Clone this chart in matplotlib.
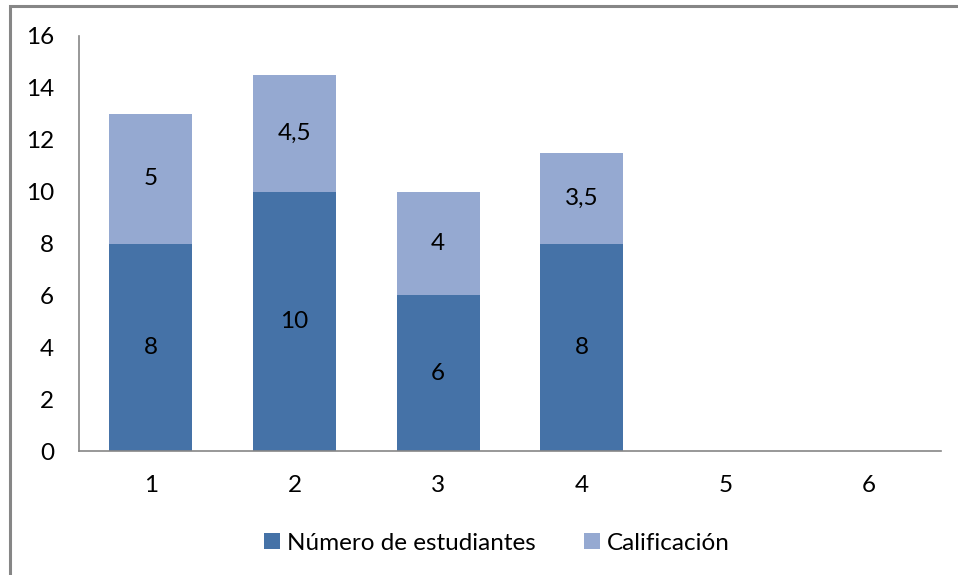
import matplotlib
matplotlib.use("Agg")
import matplotlib.pyplot as plt
from matplotlib.patches import Rectangle

categories = ["1", "2", "3", "4", "5", "6"]
estudiantes = [8, 10, 6, 8, None, None]
calificacion = [5, 4.5, 4, 3.5, None, None]
label_est = ["8", "10", "6", "8"]
label_cal = ["5", "4,5", "4", "3,5"]
yticks = [0, 2, 4, 6, 8, 10, 12, 14, 16]

plt.rcParams['font.family'] = ['Lato', 'DejaVu Sans']
FS = 17.5

fig = plt.figure(figsize=(9.58, 5.75), dpi=100)
ax = fig.add_axes([79/958, 1-451/575, (941-79)/958, (451-36)/575])

dark = "#4572A7"
light = "#95A9D1"
x = list(range(len(categories)))
est_vals = [v if v is not None else 0 for v in estudiantes]
cal_vals = [v if v is not None else 0 for v in calificacion]
w = 0.58
b1 = ax.bar(x, est_vals, width=w, color=dark, label="Número de estudiantes")
b2 = ax.bar(x, cal_vals, width=w, bottom=est_vals, color=light, label="Calificación")

for i in range(len(label_est)):
    ax.text(x[i], est_vals[i] / 2, label_est[i], ha="center", va="center", fontsize=FS, color="black")
    ax.text(x[i], est_vals[i] + cal_vals[i] / 2, label_cal[i], ha="center", va="center", fontsize=FS, color="black")

ax.set_xlim(-0.5, len(categories) - 0.5)
ax.set_ylim(0, 16)
ax.set_yticks(yticks)
ax.set_yticklabels([str(t) for t in yticks], fontsize=FS)
ax.set_xticks(x)
ax.set_xticklabels(categories, fontsize=FS)
ax.tick_params(length=0)
ax.tick_params(axis='x', pad=17)
ax.tick_params(axis='y', pad=18)
for s in ["top", "right"]:
    ax.spines[s].set_visible(False)
for s in ["left", "bottom"]:
    ax.spines[s].set_color("#868686")
    ax.spines[s].set_linewidth(1.2)

leg = fig.legend(handles=[b1, b2], loc="center", bbox_to_anchor=(497/958, 1-543/575), ncol=2,
                 frameon=False, fontsize=FS, handlelength=0.65, handleheight=0.65,
                 handletextpad=0.3, columnspacing=2.0)

fig.patches.append(Rectangle((10/958, -0.1), 1.2, 1 - 6/575 + 0.1, transform=fig.transFigure,
                             fill=False, edgecolor="#868686", linewidth=2.2))

fig.savefig("out.png", dpi=100)
